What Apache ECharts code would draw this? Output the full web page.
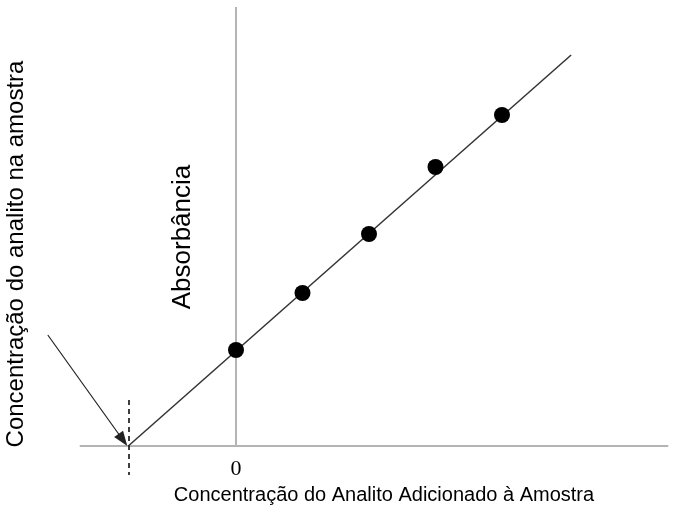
<!DOCTYPE html>
<html>
<head>
<meta charset="utf-8">
<script src="https://cdn.jsdelivr.net/npm/echarts@6/dist/echarts.min.js"></script>
<style>
html, body { margin: 0; padding: 0; background: #fff; }
#chart { width: 682px; height: 515px; }
</style>
</head>
<body>
<div id="chart"></div>
<script>
// Standard-addition calibration: added analyte concentration vs. absorbance
const addedConc = [0, 1, 2, 3, 4];
const absorbance = [0.96, 1.53, 2.12, 2.79, 3.31];
// Fitted line, extrapolated back to the x-intercept
const fitLine = [[-1.62, 0], [5.04, 3.91]];
const xIntercept = -1.62;
// Drawn axis extents
const xAxisSpan = [-2.35, 6.5];
const yAxisSpan = [0, 4.39];
const zeroLabel = '0';
const xTitle = 'Concentração do Analito Adicionado à Amostra';
const yTitle = 'Absorbância';
const sideTitle = 'Concentração do analito na amostra';

const axisGray = '#b4b4b4';
const chart = echarts.init(document.getElementById('chart'));

chart.setOption({
  animation: false,
  backgroundColor: '#fff',
  grid: { left: 0, right: 0, top: 0, bottom: 0 },
  xAxis: {
    type: 'value', min: -3.549, max: 6.707,
    axisLine: { show: false }, axisTick: { show: false },
    axisLabel: { show: false }, splitLine: { show: false }
  },
  yAxis: {
    type: 'value', min: -0.69, max: 4.46,
    axisLine: { show: false }, axisTick: { show: false },
    axisLabel: { show: false }, splitLine: { show: false }
  },
  series: [
    {
      // axes
      type: 'line', silent: true, symbol: 'none',
      data: [],
      markLine: {
        silent: true, symbol: 'none', animation: false,
        label: { show: false },
        lineStyle: { color: axisGray, width: 2, type: 'solid' },
        data: [
          [{ coord: [xAxisSpan[0], 0] }, { coord: [xAxisSpan[1], 0] }],
          [{ coord: [0, yAxisSpan[0]] }, { coord: [0, yAxisSpan[1]] }]
        ]
      }
    },
    {
      // dashed marker at the x-intercept
      type: 'line', silent: true, symbol: 'none', data: [],
      markLine: {
        silent: true, symbol: 'none', animation: false,
        label: { show: false },
        lineStyle: { color: '#000', width: 1.5, type: [5, 4] },
        data: [[{ coord: [xIntercept, 0.46] }, { coord: [xIntercept, -0.29] }]]
      }
    },
    {
      // pointer arrow
      type: 'line', silent: true, symbol: 'none', data: [],
      markLine: {
        silent: true, animation: false,
        symbol: ['none', 'triangle'], symbolSize: [11, 15],
        label: { show: false },
        lineStyle: { color: '#222', width: 1.2, type: 'solid' },
        data: [[{ coord: [-2.83, 1.11] }, { coord: [-1.70, 0.06] }]]
      }
    },
    {
      type: 'line', data: fitLine, symbol: 'none',
      lineStyle: { color: '#333', width: 1.5 }, z: 3
    },
    {
      type: 'scatter',
      data: addedConc.map((x, i) => [x, absorbance[i]]),
      symbol: 'circle', symbolSize: 16,
      itemStyle: { color: '#000', opacity: 1 }, z: 5
    }
  ],
  graphic: [
    {
      type: 'text', x: 236, y: 469,
      style: { text: zeroLabel, font: '22px "Liberation Serif", serif', fill: '#000', align: 'center', verticalAlign: 'middle' }
    },
    {
      type: 'text', x: 384, y: 495,
      style: { text: xTitle, font: '20px "Liberation Sans", Arial, sans-serif', fill: '#000', align: 'center', verticalAlign: 'middle' }
    },
    {
      type: 'text', x: 183, y: 237, rotation: Math.PI / 2,
      style: { text: yTitle, font: '26px "Liberation Sans", Arial, sans-serif', fill: '#000', align: 'center', verticalAlign: 'middle' }
    },
    {
      type: 'text', x: 16, y: 254, rotation: Math.PI / 2,
      style: { text: sideTitle, font: '24px "Liberation Sans", Arial, sans-serif', fill: '#000', align: 'center', verticalAlign: 'middle' }
    }
  ]
});
</script>
</body>
</html>
